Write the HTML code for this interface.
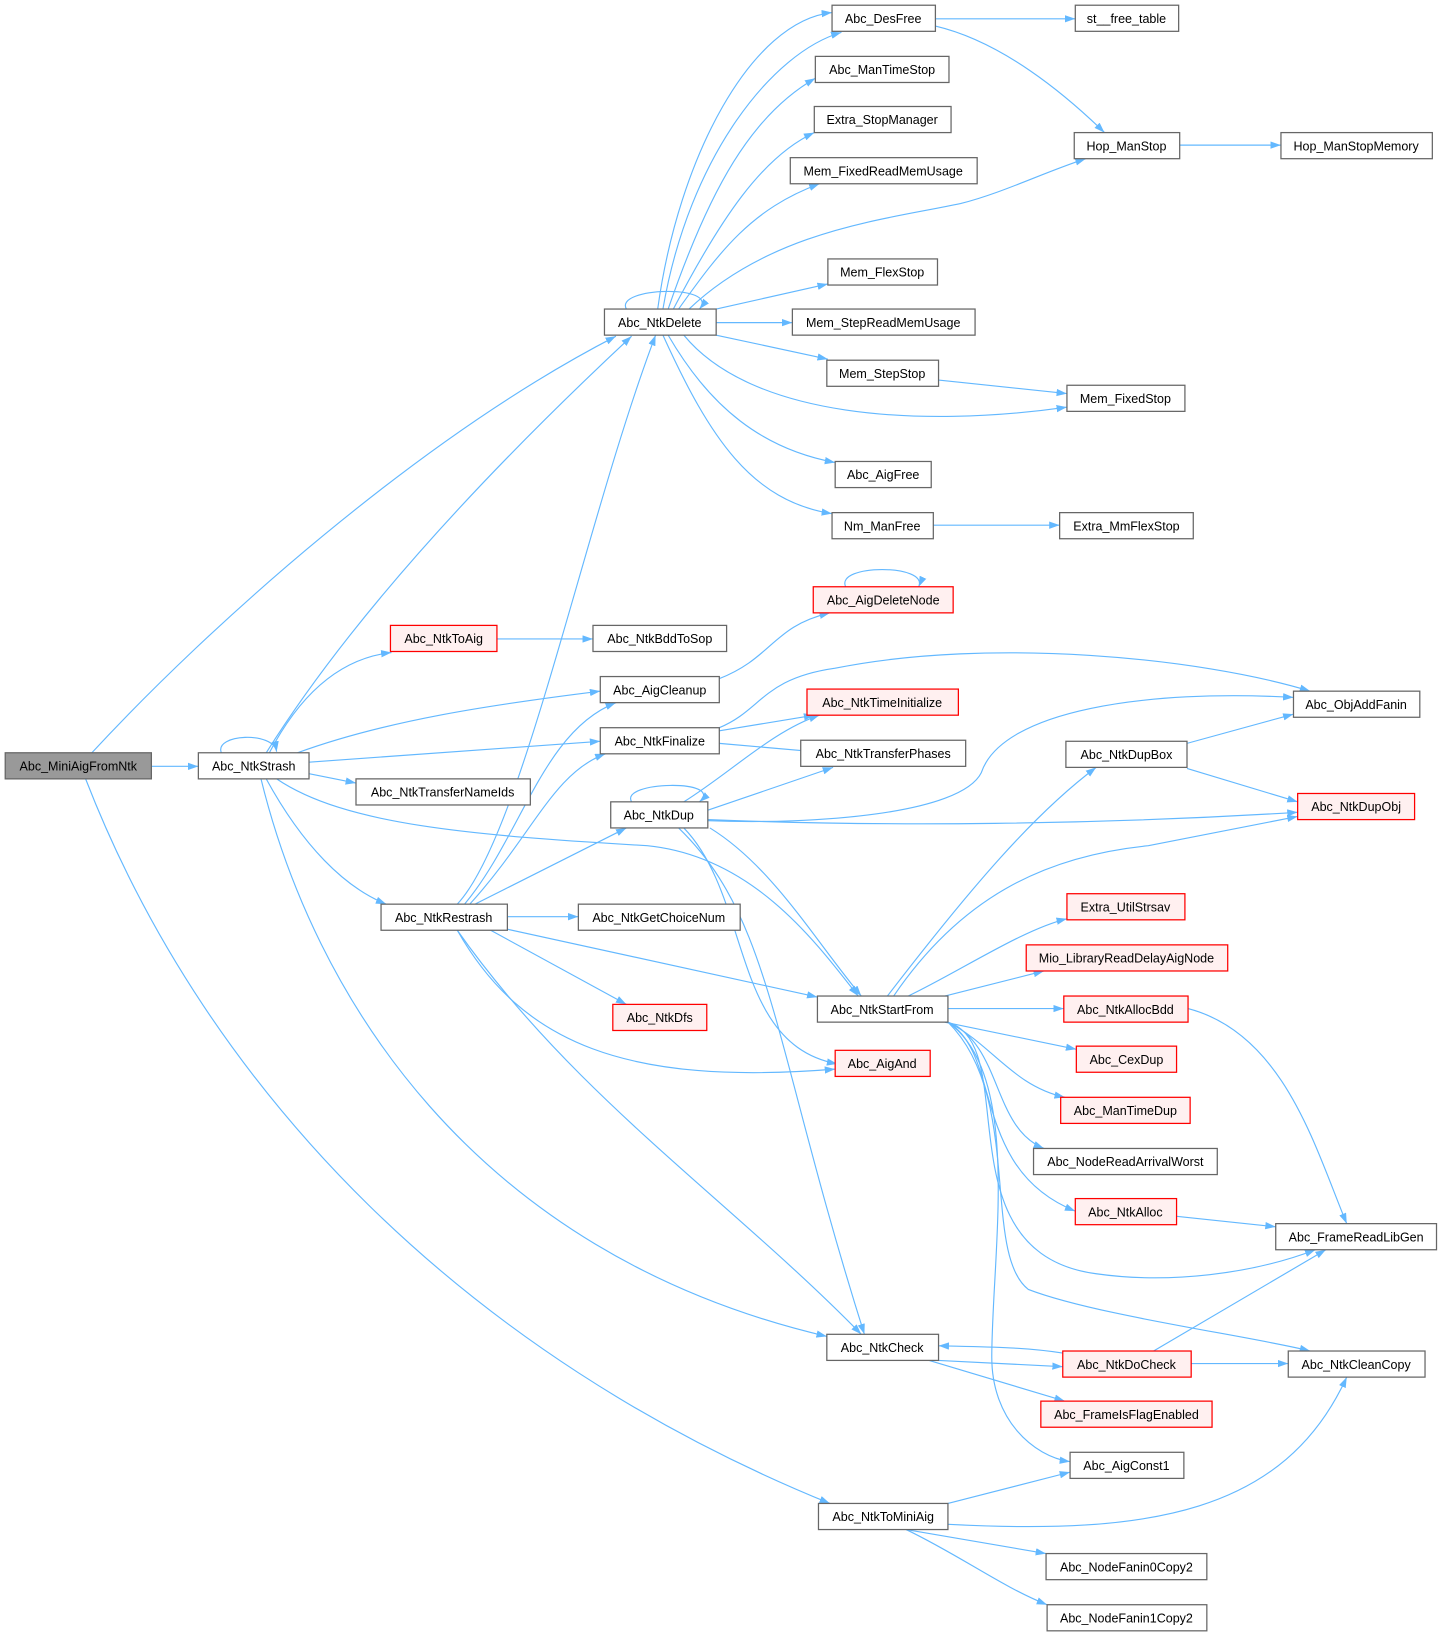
<!DOCTYPE html>
<html><head><meta charset="utf-8"><style>
html,body{margin:0;padding:0;background:#fff;}
svg{display:block;}
text{font-family:"Liberation Sans",Arial,sans-serif;font-size:12px;fill:#000;text-anchor:middle;}
.n{fill:#fff;stroke:#666;stroke-width:1.2;}
.r{fill:#fff0f0;stroke:#f00;stroke-width:1.2;}
.g{fill:#999;stroke:#666;stroke-width:1.2;}
.e{fill:none;stroke:#63b8ff;stroke-width:1.1;marker-end:url(#a);}
</style></head><body>
<svg width="1441" height="1635" viewBox="0 0 1380.3 1566" preserveAspectRatio="none" xmlns="http://www.w3.org/2000/svg">
<defs><marker id="a" markerUnits="userSpaceOnUse" markerWidth="11" markerHeight="8" refX="10" refY="3.5" orient="auto"><path d="M0,0 L10,3.5 L0,7 z" fill="#63b8ff"/></marker></defs>
<g>
<path class="e" d="M145,734 L190,734"/>
<path class="e" d="M88,721 C200,600 400,420 590,322"/>
<path class="e" d="M82,746 C200,1050 450,1300 795,1440"/>
<path class="e" d="M212,721 C205,703 262,700 265,720"/>
<path class="e" d="M255,721 C350,570 500,420 605,322"/>
<path class="e" d="M258,721 C290,660 330,630 375,625"/>
<path class="e" d="M285,721 C370,690 470,675 575,662"/>
<path class="e" d="M296,730 L575,710"/>
<path class="e" d="M296,741 L341,750"/>
<path class="e" d="M255,746 C290,810 330,850 370,866"/>
<path class="e" d="M265,746 C330,790 450,800 620,810 C720,820 780,900 822,954"/>
<path class="e" d="M250,746 C300,950 450,1200 792,1280"/>
<path class="e" d="M600,296 C588,275 690,272 670,296"/>
<path class="e" d="M630,296 C650,150 720,20 797,12"/>
<path class="e" d="M635,296 C660,150 740,50 806,31"/>
<path class="e" d="M640,296 C680,180 720,110 781,75"/>
<path class="e" d="M645,296 C690,210 730,150 780,127"/>
<path class="e" d="M650,296 C690,240 720,200 785,176"/>
<path class="e" d="M660,296 C740,220 850,210 920,195 C960,185 1000,165 1040,152"/>
<path class="e" d="M686,296 L793,272"/>
<path class="e" d="M686,309 L759,309"/>
<path class="e" d="M686,321 L793,344"/>
<path class="e" d="M655,321 C720,400 880,410 1022,390"/>
<path class="e" d="M640,321 C680,390 730,430 800,443"/>
<path class="e" d="M635,321 C680,420 720,480 797,492"/>
<path class="e" d="M896,18 L1030,18"/>
<path class="e" d="M896,25 C960,40 1020,90 1058,127"/>
<path class="e" d="M1130,139 L1227,139"/>
<path class="e" d="M899,364 L1022,377"/>
<path class="e" d="M894,503 L1015,503"/>
<path class="e" d="M810,562 C800,540 890,540 880,562"/>
<path class="e" d="M476,612 L568,612"/>
<path class="e" d="M689,650 C740,630 740,600 795,587"/>
<path class="e" d="M689,697 C730,680 730,650 800,640 C950,610 1150,630 1255,662"/>
<path class="e" d="M689,700 L780,685"/>
<path class="e" d="M689,712 L780,720"/>
<path class="e" d="M605,768 C593,748 695,746 670,768"/>
<path class="e" d="M655,768 C700,740 740,700 785,685"/>
<path class="e" d="M678,776 L798,735"/>
<path class="e" d="M678,786 C780,790 920,780 940,740 C960,680 1100,660 1239,668"/>
<path class="e" d="M678,785 C850,792 1050,790 1243,778"/>
<path class="e" d="M680,793 C740,830 780,900 825,954"/>
<path class="e" d="M655,793 C720,860 700,1000 802,1019"/>
<path class="e" d="M650,793 C740,880 740,1000 828,1278"/>
<path class="e" d="M1137,712 L1239,684"/>
<path class="e" d="M1137,736 L1243,768"/>
<path class="e" d="M850,954 C930,850 990,780 1050,735"/>
<path class="e" d="M856,954 C920,860 1000,820 1100,810 C1150,800 1200,790 1243,782"/>
<path class="e" d="M870,954 C920,930 980,890 1022,880"/>
<path class="e" d="M905,954 L1000,930"/>
<path class="e" d="M908,966 L1019,966"/>
<path class="e" d="M905,979 L1031,1005"/>
<path class="e" d="M908,979 C950,1000 970,1040 1020,1051"/>
<path class="e" d="M908,979 C960,1000 950,1080 1000,1100"/>
<path class="e" d="M908,979 C960,1010 930,1120 1030,1160"/>
<path class="e" d="M908,979 C980,1000 900,1200 1050,1220 C1120,1230 1200,1220 1260,1197"/>
<path class="e" d="M908,979 C980,1050 940,1200 985,1235 C1050,1260 1200,1280 1255,1294"/>
<path class="e" d="M908,979 C980,1030 950,1200 950,1300 C950,1360 990,1395 1025,1400"/>
<path class="e" d="M1138,966 C1230,990 1260,1100 1290,1172"/>
<path class="e" d="M1127,1165 L1222,1175"/>
<path class="e" d="M438,866 C500,800 560,500 628,321"/>
<path class="e" d="M445,866 C500,800 520,700 590,673"/>
<path class="e" d="M450,866 C510,800 530,740 580,722"/>
<path class="e" d="M455,866 L600,793"/>
<path class="e" d="M486,878 L554,878"/>
<path class="e" d="M486,890 L783,955"/>
<path class="e" d="M470,891 L600,962"/>
<path class="e" d="M438,891 C500,1000 600,1040 800,1024"/>
<path class="e" d="M438,891 C550,1050 700,1150 825,1278"/>
<path class="e" d="M899,1303 L1018,1309"/>
<path class="e" d="M1018,1296 C980,1290 940,1290 899,1289"/>
<path class="e" d="M890,1303 L1020,1342"/>
<path class="e" d="M1141,1306 L1234,1306"/>
<path class="e" d="M1105,1294 L1270,1197"/>
<path class="e" d="M908,1440 L1025,1410"/>
<path class="e" d="M908,1460 C1100,1470 1230,1450 1290,1319"/>
<path class="e" d="M868,1465 L1002,1488"/>
<path class="e" d="M868,1465 C920,1490 960,1520 1003,1537"/>
</g>
<g>
<rect class="g" x="5" y="721" width="140" height="25"/><text x="75" y="738">Abc_MiniAigFromNtk</text>
<rect class="n" x="190" y="721" width="106" height="25"/><text x="243" y="738">Abc_NtkStrash</text>
<rect class="n" x="579" y="296" width="107" height="25"/><text x="632" y="313">Abc_NtkDelete</text>
<rect class="n" x="797" y="5" width="99" height="25"/><text x="846" y="22">Abc_DesFree</text>
<rect class="n" x="1030" y="5" width="99" height="25"/><text x="1079" y="22">st__free_table</text>
<rect class="n" x="781" y="54" width="128" height="25"/><text x="845" y="71">Abc_ManTimeStop</text>
<rect class="n" x="780" y="102" width="131" height="25"/><text x="845" y="119">Extra_StopManager</text>
<rect class="n" x="757" y="151" width="179" height="25"/><text x="846" y="168">Mem_FixedReadMemUsage</text>
<rect class="n" x="1029" y="127" width="101" height="25"/><text x="1079" y="144">Hop_ManStop</text>
<rect class="n" x="1227" y="127" width="145" height="25"/><text x="1299" y="144">Hop_ManStopMemory</text>
<rect class="n" x="793" y="248" width="105" height="25"/><text x="845" y="265">Mem_FlexStop</text>
<rect class="n" x="759" y="296" width="175" height="25"/><text x="846" y="313">Mem_StepReadMemUsage</text>
<rect class="n" x="792" y="345" width="107" height="25"/><text x="845" y="362">Mem_StepStop</text>
<rect class="n" x="1022" y="369" width="113" height="25"/><text x="1078" y="386">Mem_FixedStop</text>
<rect class="n" x="800" y="442" width="92" height="25"/><text x="846" y="459">Abc_AigFree</text>
<rect class="n" x="797" y="491" width="97" height="25"/><text x="845" y="508">Nm_ManFree</text>
<rect class="n" x="1015" y="491" width="128" height="25"/><text x="1079" y="508">Extra_MmFlexStop</text>
<rect class="r" x="779" y="562" width="134" height="25"/><text x="846" y="579">Abc_AigDeleteNode</text>
<rect class="r" x="374" y="599" width="102" height="25"/><text x="425" y="616">Abc_NtkToAig</text>
<rect class="n" x="568" y="599" width="128" height="25"/><text x="632" y="616">Abc_NtkBddToSop</text>
<rect class="n" x="575" y="648" width="114" height="25"/><text x="632" y="665">Abc_AigCleanup</text>
<rect class="r" x="773" y="660" width="145" height="25"/><text x="845" y="677">Abc_NtkTimeInitialize</text>
<rect class="n" x="1239" y="662" width="121" height="25"/><text x="1299" y="679">Abc_ObjAddFanin</text>
<rect class="n" x="575" y="697" width="114" height="25"/><text x="632" y="714">Abc_NtkFinalize</text>
<rect class="n" x="767" y="709" width="158" height="25"/><text x="846" y="726">Abc_NtkTransferPhases</text>
<rect class="n" x="1021" y="710" width="116" height="25"/><text x="1079" y="727">Abc_NtkDupBox</text>
<rect class="n" x="341" y="746" width="167" height="25"/><text x="424" y="763">Abc_NtkTransferNameIds</text>
<rect class="n" x="585" y="768" width="93" height="25"/><text x="631" y="785">Abc_NtkDup</text>
<rect class="r" x="1243" y="760" width="112" height="25"/><text x="1299" y="777">Abc_NtkDupObj</text>
<rect class="r" x="1022" y="856" width="113" height="25"/><text x="1078" y="873">Extra_UtilStrsav</text>
<rect class="r" x="983" y="905" width="193" height="25"/><text x="1079" y="922">Mio_LibraryReadDelayAigNode</text>
<rect class="n" x="365" y="866" width="121" height="25"/><text x="425" y="883">Abc_NtkRestrash</text>
<rect class="n" x="554" y="866" width="155" height="25"/><text x="631" y="883">Abc_NtkGetChoiceNum</text>
<rect class="n" x="783" y="954" width="125" height="25"/><text x="845" y="971">Abc_NtkStartFrom</text>
<rect class="r" x="1019" y="954" width="119" height="25"/><text x="1078" y="971">Abc_NtkAllocBdd</text>
<rect class="r" x="587" y="962" width="90" height="25"/><text x="632" y="979">Abc_NtkDfs</text>
<rect class="r" x="1031" y="1002" width="96" height="25"/><text x="1079" y="1019">Abc_CexDup</text>
<rect class="r" x="800" y="1006" width="91" height="25"/><text x="845" y="1023">Abc_AigAnd</text>
<rect class="r" x="1016" y="1051" width="124" height="25"/><text x="1078" y="1068">Abc_ManTimeDup</text>
<rect class="n" x="990" y="1100" width="176" height="25"/><text x="1078" y="1117">Abc_NodeReadArrivalWorst</text>
<rect class="r" x="1030" y="1148" width="97" height="25"/><text x="1078" y="1165">Abc_NtkAlloc</text>
<rect class="n" x="1222" y="1172" width="154" height="25"/><text x="1299" y="1189">Abc_FrameReadLibGen</text>
<rect class="n" x="792" y="1278" width="107" height="25"/><text x="845" y="1295">Abc_NtkCheck</text>
<rect class="r" x="1018" y="1294" width="123" height="25"/><text x="1079" y="1311">Abc_NtkDoCheck</text>
<rect class="n" x="1234" y="1294" width="131" height="25"/><text x="1299" y="1311">Abc_NtkCleanCopy</text>
<rect class="r" x="997" y="1342" width="164" height="25"/><text x="1079" y="1359">Abc_FrameIsFlagEnabled</text>
<rect class="n" x="1025" y="1391" width="109" height="25"/><text x="1079" y="1408">Abc_AigConst1</text>
<rect class="n" x="784" y="1440" width="124" height="25"/><text x="846" y="1457">Abc_NtkToMiniAig</text>
<rect class="n" x="1002" y="1488" width="154" height="25"/><text x="1079" y="1505">Abc_NodeFanin0Copy2</text>
<rect class="n" x="1003" y="1537" width="153" height="25"/><text x="1079" y="1554">Abc_NodeFanin1Copy2</text>
</g>
</svg>
</body></html>
